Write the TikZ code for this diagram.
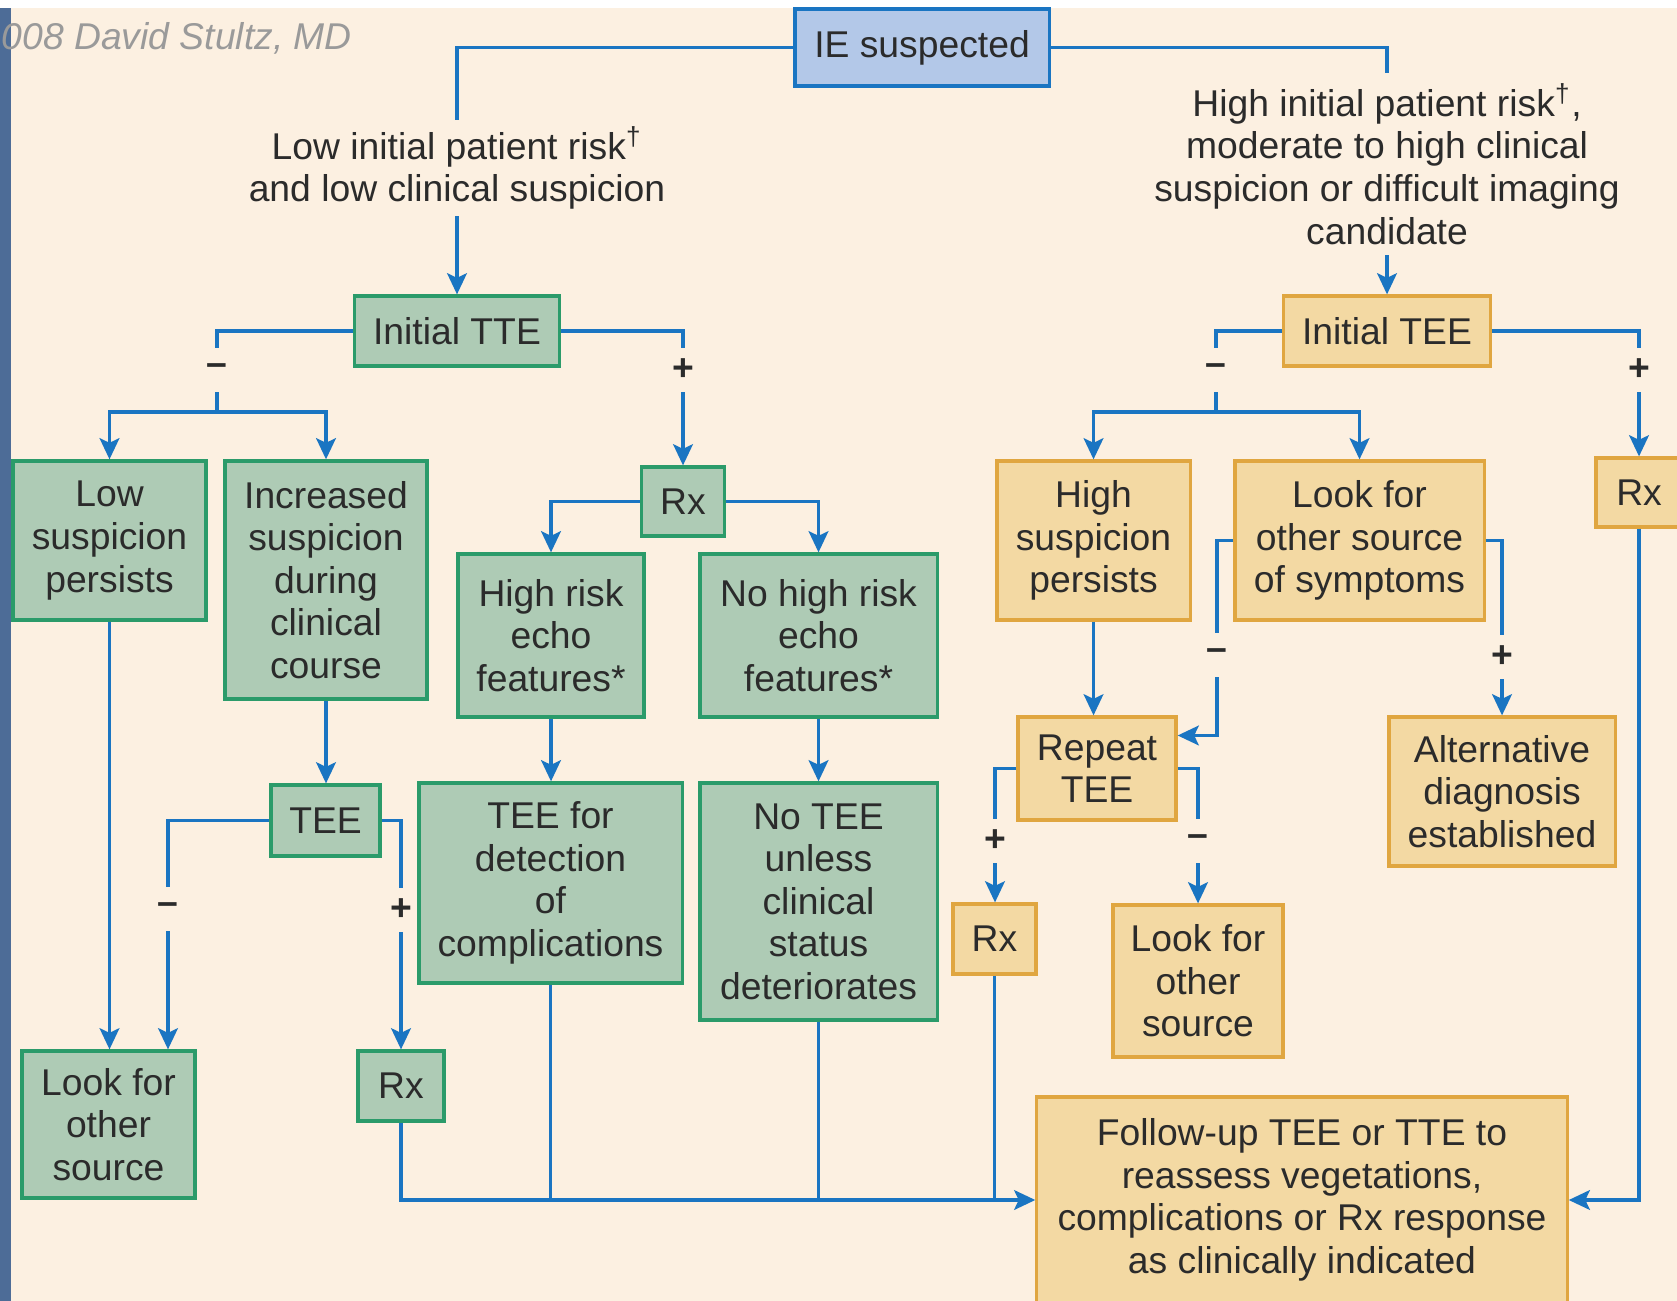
\documentclass[tikz,border=0pt]{standalone}
\usepackage{fontspec}
\setmainfont{Liberation Sans}
\usepackage{xcolor}
\usetikzlibrary{arrows.meta}

\definecolor{paper}{HTML}{FCF0E1}
\definecolor{edgestrip}{HTML}{4D6C97}
\definecolor{flowblue}{HTML}{1A75C2}
\definecolor{ttefill}{HTML}{AECBB5}
\definecolor{tteline}{HTML}{2B9B6A}
\definecolor{teefill}{HTML}{F3D9A3}
\definecolor{teeline}{HTML}{E0A640}
\definecolor{iefill}{HTML}{B3C8E8}
\definecolor{ink}{HTML}{2B2B2B}
\definecolor{credit}{HTML}{9A9A9A}

\begin{document}
\begin{tikzpicture}[
  x=0.01cm, y=-0.01cm,
  every node/.style={font=\fontsize{10.6}{12.1}\selectfont, text=ink, align=center},
  box/.style={draw, line width=0.9pt, inner sep=0pt},
  iebox/.style={box, draw=flowblue, fill=iefill},
  ttebox/.style={box, draw=tteline, fill=ttefill},
  teebox/.style={box, draw=teeline, fill=teefill},
  sign/.style={font=\fontsize{10.6}{12.1}\selectfont\bfseries, inner sep=0pt, minimum size=0.43cm},
  flow/.style={draw=flowblue, line width=1pt},
  arr/.style={flow, -{Stealth[length=6pt, width=5.6pt, inset=1.3pt]}},
]
\useasboundingbox (0,0) rectangle (1677,1301);
\clip (0,0) rectangle (1677,1301);
\fill[paper] (0,0) rectangle (1677,1301);
\fill[white] (0,0) rectangle (1677,8);
\fill[edgestrip] (0,8) rectangle (10.5,1301);
\node[anchor=west, inner sep=0pt, text=credit, font=\fontsize{10.6}{12.1}\selectfont\itshape] (stamp) at (1,38) {008 David Stultz, MD};

\node[iebox, minimum width=2.54cm, minimum height=0.77cm] (ie) at (922,47.5) {IE suspected};
\node[inner sep=0.06cm] (lowlab) at (457,168) {Low initial patient risk\textsuperscript{†}\\and low clinical suspicion};
\node[inner sep=0.1cm] (highlab) at (1387,164) {High initial patient risk\textsuperscript{†},\\moderate to high clinical\\suspicion or difficult imaging\\candidate};

\node[ttebox, minimum width=2.05cm, minimum height=0.70cm] (tte) at (457,331) {Initial TTE};
\node[teebox, minimum width=2.07cm, minimum height=0.70cm] (tee) at (1387,331) {Initial TEE};

\node[ttebox, minimum width=1.93cm, minimum height=1.59cm] (lowsusp) at (109.5,540.5) {Low\\suspicion\\persists};
\node[ttebox, minimum width=2.02cm, minimum height=2.38cm] (incsusp) at (326,580) {Increased\\suspicion\\during\\clinical\\course};
\node[ttebox, minimum width=0.83cm, minimum height=0.69cm] (rxa) at (683,501.5) {Rx};
\node[ttebox, minimum width=1.86cm, minimum height=1.63cm] (hirisk) at (551,635.5) {High risk\\echo\\features*};
\node[ttebox, minimum width=2.37cm, minimum height=1.63cm] (nohirisk) at (818.5,635.5) {No high risk\\echo\\features*};
\node[ttebox, minimum width=1.09cm, minimum height=0.71cm] (teeb) at (325.5,820.5) {TEE};
\node[ttebox, minimum width=2.63cm, minimum height=2.00cm] (teedet) at (550.5,883) {TEE for\\detection\\of\\complications};
\node[ttebox, minimum width=2.37cm, minimum height=2.37cm] (notee) at (818.5,901.5) {No TEE\\unless\\clinical\\status\\deteriorates};
\node[ttebox, minimum width=1.73cm, minimum height=1.47cm] (lookl) at (108.5,1124.5) {Look for\\other\\source};
\node[ttebox, minimum width=0.86cm, minimum height=0.70cm] (rxb) at (401,1086) {Rx};

\node[teebox, minimum width=1.93cm, minimum height=1.59cm] (hisusp) at (1093.5,540.5) {High\\suspicion\\persists};
\node[teebox, minimum width=2.49cm, minimum height=1.59cm] (looksym) at (1359.5,540.5) {Look for\\other source\\of symptoms};
\node[teebox, minimum width=0.86cm, minimum height=0.69cm] (rxc) at (1639,492.5) {Rx};
\node[teebox, minimum width=2.26cm, minimum height=1.49cm] (altdx) at (1502,791.5) {Alternative\\diagnosis\\established};
\node[teebox, minimum width=1.58cm, minimum height=1.03cm] (repeat) at (1097,768.5) {Repeat\\TEE};
\node[teebox, minimum width=0.83cm, minimum height=0.70cm] (rxd) at (994.5,939) {Rx};
\node[teebox, minimum width=1.70cm, minimum height=1.52cm] (lookr) at (1198,981) {Look for\\other\\source};
\node[teebox, minimum width=5.30cm, minimum height=2.06cm] (follow) at (1302,1200) {Follow-up TEE or TTE to\\reassess vegetations,\\complications or Rx response\\as clinically indicated};

\node[sign] (m1) at (217,370) {–};
\node[sign] (p1) at (683,370) {+};
\node[sign] (m2) at (168,909) {–};
\node[sign] (p2) at (401,910) {+};
\node[sign] (m3) at (1216,370) {–};
\node[sign] (p3) at (1639,370) {+};
\node[sign] (m4) at (1217,655) {–};
\node[sign] (p4) at (1502,657) {+};
\node[sign] (p5) at (995,841) {+};
\node[sign] (m5) at (1198,841) {–};
\coordinate (j1) at (217,412);
\coordinate (j2) at (1216,412);

\draw[flow] (ie.west) -| (lowlab.north);
\draw[arr] (lowlab.south) -- (lowlab.south |- tte.north);
\draw[flow] (ie.east) -| (highlab.north);
\draw[arr] (highlab.south) -- (highlab.south |- tee.north);

\draw[flow] (tte.west) -| (m1.north);
\draw[flow] (m1.south) -- (j1);
\draw[arr] (j1) -| (lowsusp.north);
\draw[arr] (j1) -| (incsusp.north);
\draw[flow] (tte.east) -| (p1.north);
\draw[arr] (p1.south) -- (p1.south |- rxa.north);
\draw[arr] (rxa.west) -| (hirisk.north);
\draw[arr] (rxa.east) -| (nohirisk.north);
\draw[arr] (hirisk.south) -- (hirisk.south |- teedet.north);
\draw[arr] (nohirisk.south) -- (nohirisk.south |- notee.north);
\draw[arr] (lowsusp.south) -- (lowsusp.south |- lookl.north);
\draw[arr] (incsusp.south) -- (incsusp.south |- teeb.north);
\draw[flow] (teeb.west) -| (m2.north);
\draw[arr] (m2.south) -- (m2.south |- lookl.north);
\draw[flow] (teeb.east) -| (p2.north);
\draw[arr] (p2.south) -- (rxb.north);

\draw[arr] (rxb.south) |- (follow.west);
\draw[flow] (teedet.south) -- (teedet.south |- follow.west);
\draw[flow] (notee.south) -- (notee.south |- follow.west);
\draw[flow] (rxd.south) -- (rxd.south |- follow.west);

\draw[flow] (tee.west) -| (m3.north);
\draw[flow] (m3.south) -- (j2);
\draw[arr] (j2) -| (hisusp.north);
\draw[arr] (j2) -| (looksym.north);
\draw[flow] (tee.east) -| (p3.north);
\draw[arr] (p3.south) -- (rxc.north);
\draw[arr] (rxc.south) |- (follow.east);
\draw[arr] (hisusp.south) -- (hisusp.south |- repeat.north);
\draw[flow] (looksym.west) -| (m4.north);
\draw[arr] (m4.south) |- ([yshift=0.33cm]repeat.east);
\draw[flow] (looksym.east) -| (p4.north);
\draw[arr] (p4.south) -- (altdx.north);
\draw[flow] (repeat.west) -| (p5.north);
\draw[arr] (p5.south) -- (p5.south |- rxd.north);
\draw[flow] (repeat.east) -| (m5.north);
\draw[arr] (m5.south) -- (m5.south |- lookr.north);
\end{tikzpicture}
\end{document}
